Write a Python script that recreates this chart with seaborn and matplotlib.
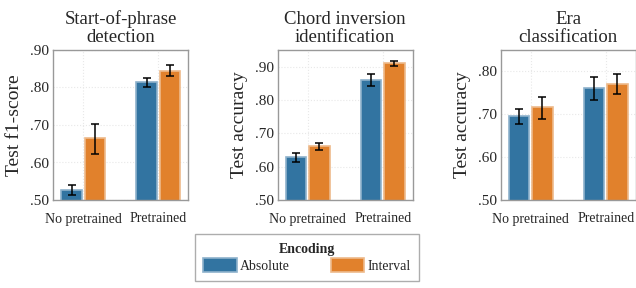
import seaborn as sns
import matplotlib.pyplot as plt
import matplotlib.colors as mcolors
from matplotlib.ticker import FuncFormatter
import numpy as np
import pandas as pd

conditions = ["No pretrained", "Pretrained"]
encodings = ["Absolute", "Interval"]
titles = ["Start-of-phrase\ndetection", "Chord inversion\nidentification", "Era\nclassification"]
ylabels = ["Test f1-score", "Test accuracy", "Test accuracy"]
ylims = [(0.5, 0.9), (0.5, 0.95), (0.5, 0.85)]
yticks = [[.5, .6, .7, .8, .9], [.5, .6, .7, .8, .9], [.5, .6, .7, .8]]

# order: (No pretrained, Absolute), (No pretrained, Interval), (Pretrained, Absolute), (Pretrained, Interval)
phrase_mean = [0.527, 0.664, 0.814, 0.845]
phrase_lo = [0.513, 0.622, 0.802, 0.831]
phrase_hi = [0.540, 0.703, 0.825, 0.859]

inversion_mean = [0.628, 0.661, 0.860, 0.911]
inversion_lo = [0.614, 0.649, 0.843, 0.903]
inversion_hi = [0.641, 0.672, 0.877, 0.918]

era_mean = [0.695, 0.717, 0.761, 0.771]
era_lo = [0.677, 0.690, 0.733, 0.748]
era_hi = [0.712, 0.741, 0.788, 0.793]

tasks = [(phrase_mean, phrase_lo, phrase_hi),
         (inversion_mean, inversion_lo, inversion_hi),
         (era_mean, era_lo, era_hi)]

sns.set_theme(style="whitegrid")
plt.rcParams['font.family'] = ['Liberation Serif', 'DejaVu Serif']
palette = sns.color_palette("tab10", 2, desat=0.75)

fig = plt.figure(figsize=(6.36, 2.88), dpi=100)
lefts = [53.3 / 636, 277.7 / 636, 500.7 / 636]
for i, (means, lo, hi) in enumerate(tasks):
    ax = fig.add_axes([lefts[i], 88 / 288, 135 / 636, 150 / 288])
    df = pd.DataFrame({
        "cond": [c for c in conditions for _ in encodings],
        "Encoding": encodings * 2,
        "value": means,
    })
    sns.barplot(data=df, x="cond", y="value", hue="Encoding", order=conditions,
                hue_order=encodings, palette=palette, saturation=1, width=0.62, gap=0.12,
                errorbar=None, legend=(i == 0), ax=ax)
    for p in ax.patches:
        fc = np.array(mcolors.to_rgb(p.get_facecolor()))
        p.set_edgecolor(tuple(fc + (1 - fc) * 0.45))
        p.set_linewidth(1.2)
    for j, cond in enumerate(conditions):
        for k, enc in enumerate(encodings):
            idx = j * 2 + k
            bar = ax.containers[k].patches[j]
            xc = bar.get_x() + bar.get_width() / 2
            ax.errorbar(xc, means[idx],
                        yerr=[[means[idx] - lo[idx]], [hi[idx] - means[idx]]],
                        fmt="none", ecolor="black", elinewidth=1.1, capsize=3, capthick=1.1)
    ax.set_xlim(-0.4, 1.4)
    ax.set_ylim(*ylims[i])
    ax.set_yticks(yticks[i])
    ax.yaxis.set_major_formatter(FuncFormatter(lambda v, pos: f"{v:.2f}"[1:]))
    ax.set_title(titles[i], fontsize=13.5, pad=6, linespacing=1.05)
    ax.set_ylabel(ylabels[i], fontsize=14, labelpad=5)
    ax.set_xlabel("")
    ax.tick_params(axis="y", labelsize=11, direction="in", length=5, color="#bbbbbb", pad=3)
    ax.tick_params(axis="x", labelsize=10, length=0, pad=9)
    ax.grid(True, color="#e8e8e8", linestyle=":", linewidth=0.8)
    for s in ax.spines.values():
        s.set_color("#999999")
        s.set_linewidth(1.0)
    ax.set_axisbelow(True)
    if i == 0:
        handles, labels = ax.get_legend_handles_labels()
        ax.get_legend().remove()

leg = fig.legend(handles, labels, title="Encoding", loc="lower center",
                 bbox_to_anchor=(307 / 636, 0.0), ncol=2, fontsize=10,
                 title_fontproperties={"weight": "bold", "size": 10},
                 handlelength=2.4, handleheight=1.1, columnspacing=3.0,
                 handletextpad=0.2, frameon=True, fancybox=False,
                 borderpad=0.6, labelspacing=0.2)
leg.get_frame().set_edgecolor("#999999")
leg.get_frame().set_linewidth(1.0)

fig.savefig("out.png", dpi=100)
